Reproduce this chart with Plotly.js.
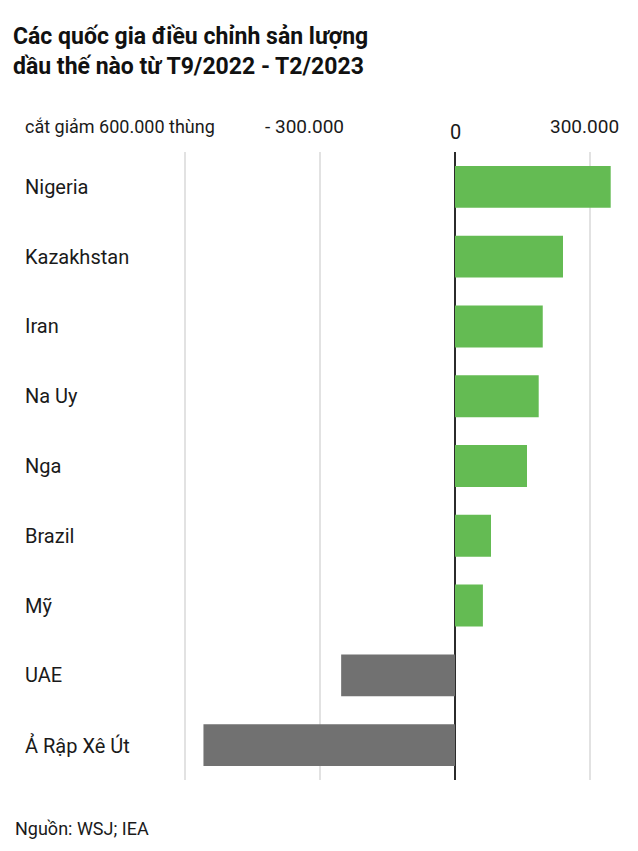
<!DOCTYPE html>
<html>
<head>
<meta charset="utf-8">
<script src="https://cdn.plot.ly/plotly-3.0.1.min.js"></script>
<style>
html,body{margin:0;padding:0;background:#fff;}
#chart{width:638px;height:851px;}
</style>
</head>
<body>
<div id="chart"></div>
<script>
// Data (barrels per day change, Sep 2022 - Feb 2023)
var countries = ["Nigeria", "Kazakhstan", "Iran", "Na Uy", "Nga", "Brazil", "Mỹ", "UAE", "Ả Rập Xê Út"];
var changes = [346000, 240000, 195000, 186000, 160000, 80000, 62000, -253000, -559000];
var tickValues = [-600000, -300000, 0, 300000];
var tickLabels = ["cắt giảm 600.000 thùng", "- 300.000", "0", "300.000"];
var titleText = "Các quốc gia điều chỉnh sản lượng<br>dầu thế nào từ T9/2022 - T2/2023";
var sourceText = "Nguồn: WSJ; IEA";

var FONT = "Roboto, 'Noto Sans', sans-serif";
var barColors = changes.map(function(v){ return v >= 0 ? "#64bb53" : "#717171"; });

var trace = {
  type: "bar",
  orientation: "h",
  y: countries,
  x: changes,
  marker: {color: barColors},
  width: 0.6,
  hoverinfo: "skip"
};

var annotations = countries.map(function(c){
  return {
    text: c, xref: "paper", x: 0, xanchor: "left", xshift: -2,
    yref: "y", y: c, yanchor: "middle", showarrow: false,
    font: {family: FONT, size: 20, color: "#1a1a1a"}
  };
});

// top tick labels
var tickShift = [0, -16, 0, -6];
tickValues.forEach(function(v, i){
  var a = {
    text: tickLabels[i], yref: "paper", y: 1, yanchor: "middle",
    yshift: (i === 2 ? 20 : 26), showarrow: false,
    font: {family: FONT, size: (i === 0 ? 18 : (i === 2 ? 20 : 19)), color: "#1a1a1a"}
  };
  if (i === 0) { a.xref = "paper"; a.x = 0; a.xanchor = "left"; a.xshift = -2; }
  else { a.xref = "x"; a.x = v; a.xanchor = "center"; a.xshift = tickShift[i]; }
  annotations.push(a);
});

annotations.push({
  text: sourceText, xref: "paper", x: 0, xanchor: "left", xshift: -12,
  yref: "paper", y: 0, yanchor: "middle", yshift: -48, showarrow: false,
  font: {family: FONT, size: 18, color: "#1a1a1a"}
});

var layout = {
  width: 638, height: 851,
  margin: {l: 25, r: 13, t: 152, b: 71},
  paper_bgcolor: "#ffffff", plot_bgcolor: "#ffffff",
  showlegend: false,
  title: {
    text: "<b>" + titleText + "</b>",
    font: {family: FONT, size: 23, color: "#111"},
    xref: "container", x: 13/638, xanchor: "left",
    yref: "container", y: 1 - 44/851, yanchor: "middle"
  },
  xaxis: {
    range: [-955556, 377778],
    tickvals: tickValues,
    showticklabels: false,
    showgrid: true, gridcolor: "#e2e2e2", gridwidth: 1.5,
    zeroline: true, zerolinecolor: "#2b2b2b", zerolinewidth: 2,
    fixedrange: true
  },
  yaxis: {
    type: "category",
    autorange: "reversed",
    showticklabels: false,
    showgrid: false, zeroline: false,
    fixedrange: true
  },
  annotations: annotations
};

Plotly.newPlot("chart", [trace], layout, {staticPlot: true, displayModeBar: false});
</script>
</body>
</html>
